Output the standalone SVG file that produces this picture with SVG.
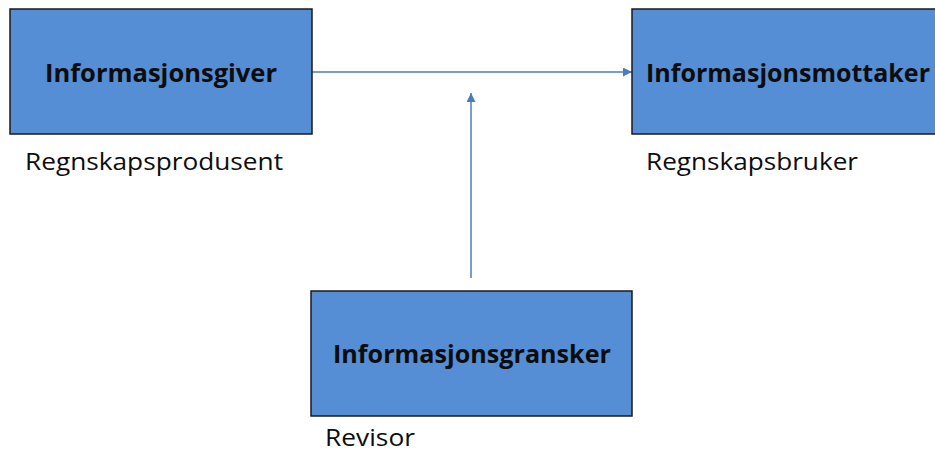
<svg xmlns="http://www.w3.org/2000/svg" width="935" height="454" viewBox="0 0 935 454">
  <style>
    .box { fill: #558ed5; stroke: #1a1a1a; stroke-width: 1.5; }
    .title { font-family: "Open Sans", "Liberation Sans", sans-serif; font-weight: bold; font-size: 25px; fill: #0d0d0d; }
    .label { font-family: "Open Sans", "Liberation Sans", sans-serif; font-size: 24px; fill: #0d0d0d; }
    .link { stroke: #4a7ebb; stroke-width: 1.5; fill: none; }
  </style>
  <defs>
    <marker id="arrow" viewBox="0 0 10 10" refX="10" refY="5" markerWidth="9" markerHeight="9" orient="auto" markerUnits="userSpaceOnUse">
      <path d="M0,0 L10,5 L0,10 z" fill="#4a7ebb"/>
    </marker>
  </defs>
  <rect width="935" height="454" fill="#ffffff"/>

  <g id="connectors">
    <line class="link" x1="312" y1="72" x2="632" y2="72" marker-end="url(#arrow)"/>
    <line class="link" x1="471" y1="278" x2="471" y2="93" marker-end="url(#arrow)"/>
  </g>

  <g id="informasjonsgiver">
    <rect class="box" x="10" y="9" width="302" height="125"/>
    <text class="title" x="45" y="82" textLength="232" lengthAdjust="spacingAndGlyphs">Informasjonsgiver</text>
    <text class="label" x="25" y="170" textLength="258" lengthAdjust="spacingAndGlyphs">Regnskapsprodusent</text>
  </g>

  <g id="informasjonsmottaker">
    <rect class="box" x="632" y="9" width="310" height="125"/>
    <text class="title" x="646" y="82" textLength="284" lengthAdjust="spacingAndGlyphs">Informasjonsmottaker</text>
    <text class="label" x="646" y="170" textLength="212" lengthAdjust="spacingAndGlyphs">Regnskapsbruker</text>
  </g>

  <g id="informasjonsgransker">
    <rect class="box" x="311" y="291" width="321" height="125"/>
    <text class="title" x="333" y="363" textLength="278" lengthAdjust="spacingAndGlyphs">Informasjonsgransker</text>
    <text class="label" x="325" y="446" textLength="90" lengthAdjust="spacingAndGlyphs">Revisor</text>
  </g>
</svg>
